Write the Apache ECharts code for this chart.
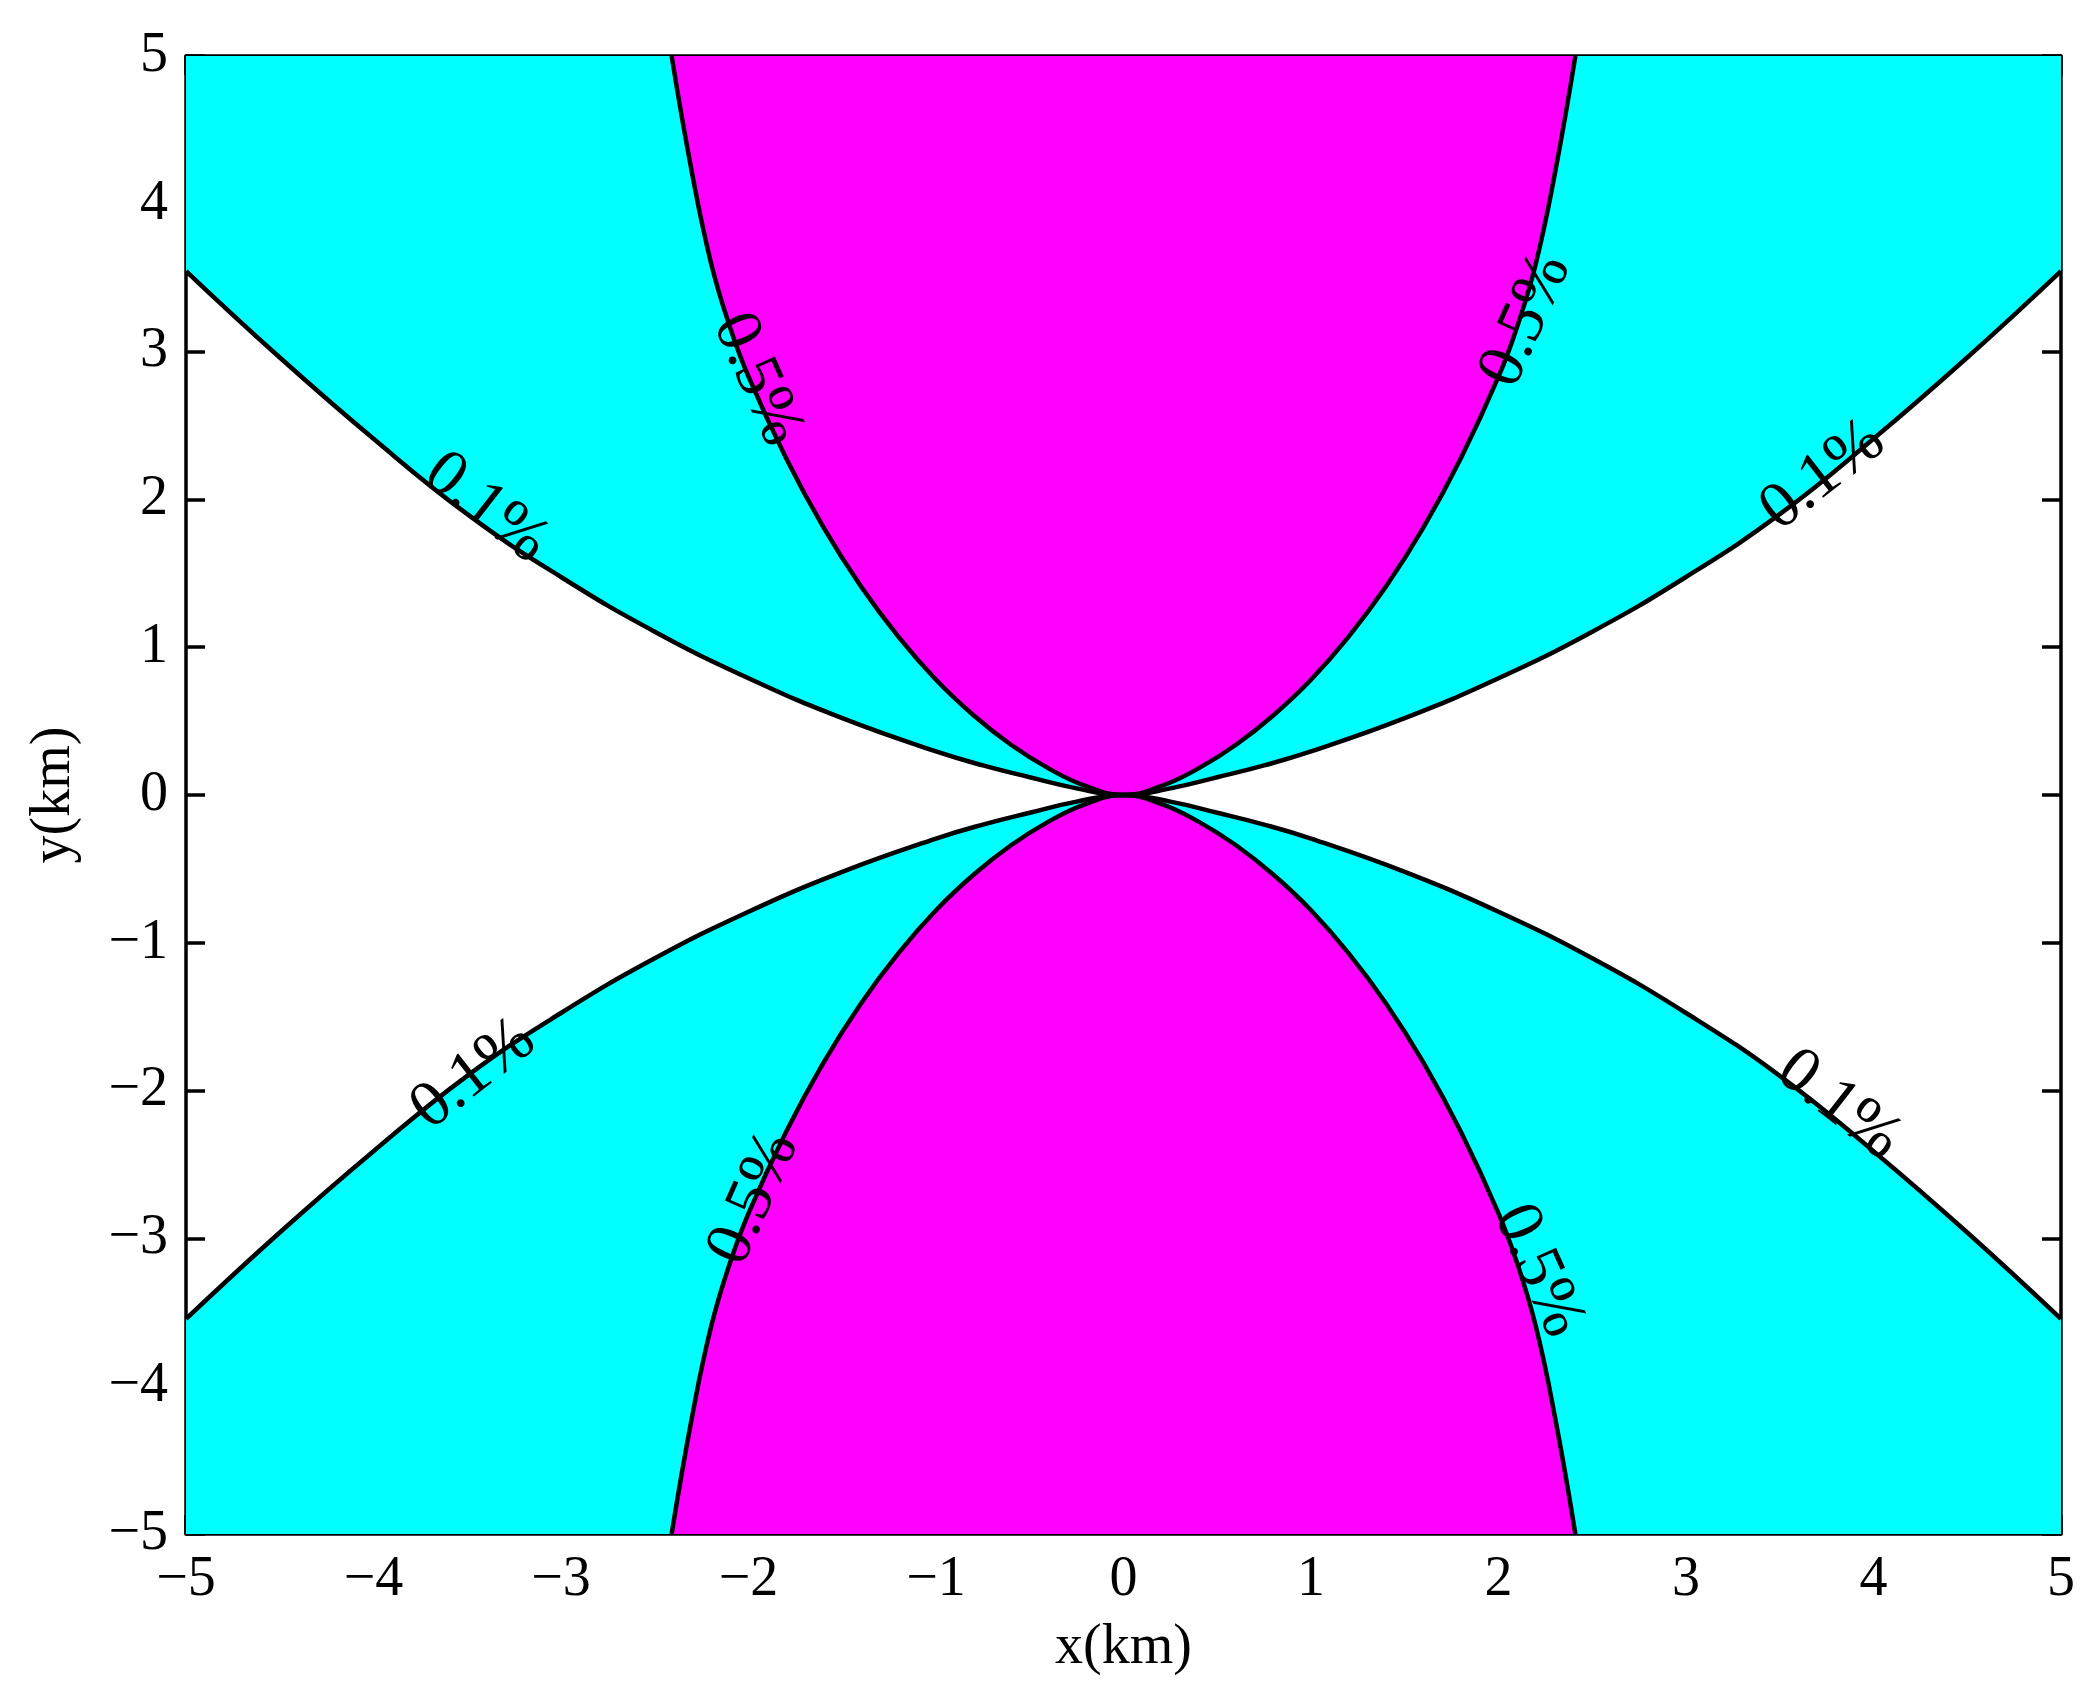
<!DOCTYPE html>
<html>
<head>
<meta charset="utf-8">
<script src="https://cdn.jsdelivr.net/npm/echarts@6/dist/echarts.min.js"></script>
<style>html,body{margin:0;padding:0;background:#fff}#c{width:2100px;height:1705px}</style>
</head>
<body>
<div id="c"></div>
<script>
// Right-half samples (x >= 0) of each contour; the plot is symmetric.
const c01X = [0, 0.25, 0.5, 0.75, 1, 1.5, 2, 2.5, 3, 3.5, 4, 4.5, 5];
const c01Y = [0, 0.045, 0.12, 0.2, 0.295, 0.52, 0.79, 1.105, 1.475, 1.9, 2.41, 2.96, 3.545];
const c05X = [0, 0.2, 0.4, 0.6, 0.8, 1.0, 1.2, 1.4, 1.6, 1.8, 2.0, 2.1, 2.2, 2.3, 2.41];
const c05Y = [0, 0.06, 0.18, 0.34, 0.54, 0.78, 1.07, 1.41, 1.81, 2.28, 2.83, 3.17, 3.6, 4.2, 5.0];

// Contour labels
const labelText = ['0.1%', '0.5%', '0.5%', '0.1%', '0.1%', '0.5%', '0.1%', '0.5%'];
const labelX = [-3.40, -1.955, 2.148, 3.73, -3.467, -1.97, 3.815, 2.212];
const labelY = [1.94, 2.81, 3.21, 2.16, -1.893, -2.73, -2.10, -3.22];
const labelAngle = [-38, -66, 66, 38, 38, 66, -38, -66];

function fullCurve(xs, ys, sign) {
  const pts = [];
  for (let i = xs.length - 1; i > 0; i--) pts.push([-xs[i], sign * ys[i]]);
  for (let i = 0; i < xs.length; i++) pts.push([xs[i], sign * ys[i]]);
  return pts;
}

const FONT = 'Liberation Serif';
const minus = v => String(v).replace('-', '\u2212');

function areaSeries(data, color, origin) {
  return {
    type: 'line', data: data, smooth: 0.45, showSymbol: false, symbol: 'none',
    lineStyle: { color: '#000', width: 4.5 },
    areaStyle: { color: color, opacity: 1, origin: origin },
    clip: true, silent: true, z: 2
  };
}

const labelData = labelText.map((t, i) => ({
  name: t, value: [labelX[i], labelY[i]],
  label: { rotate: labelAngle[i] }
}));

const axisCommon = {
  type: 'value', min: -5, max: 5, interval: 1,
  axisLine: { show: true, onZero: false, lineStyle: { color: '#000', width: 3.5 } },
  axisTick: { show: true, inside: true, length: 19, lineStyle: { color: '#000', width: 3.5 } },
  splitLine: { show: false }
};

const option = {
  animation: false,
  backgroundColor: '#fff',
  grid: { left: 186, right: 39, top: 56, bottom: 171, containLabel: false },
  xAxis: [
    Object.assign({}, axisCommon, {
      position: 'bottom',
      name: 'x(km)', nameLocation: 'middle', nameGap: 86,
      nameTextStyle: { fontFamily: FONT, fontSize: 56, color: '#000' },
      axisLabel: { margin: 18, fontFamily: FONT, fontSize: 56, color: '#000', formatter: minus }
    }),
    Object.assign({}, axisCommon, { position: 'top', axisLabel: { show: false } })
  ],
  yAxis: [
    Object.assign({}, axisCommon, {
      position: 'left',
      name: 'y(km)', nameLocation: 'middle', nameGap: 104, nameRotate: 90,
      nameTextStyle: { fontFamily: FONT, fontSize: 56, color: '#000' },
      axisLabel: { margin: 18, fontFamily: FONT, fontSize: 56, color: '#000', formatter: minus }
    }),
    Object.assign({}, axisCommon, { position: 'right', axisLabel: { show: false } })
  ],
  series: [
    areaSeries(fullCurve(c01X, c01Y, 1), '#00FFFF', 'end'),
    areaSeries(fullCurve(c05X, c05Y, 1), '#FF00FF', 'end'),
    areaSeries(fullCurve(c01X, c01Y, -1), '#00FFFF', 'start'),
    areaSeries(fullCurve(c05X, c05Y, -1), '#FF00FF', 'start'),
    {
      type: 'scatter', data: labelData, symbolSize: 0, itemStyle: { color: '#000', opacity: 1 },
      z: 5, silent: true,
      label: {
        show: true, position: 'inside', formatter: p => p.name,
        fontFamily: FONT, fontSize: 66, color: '#000', textBorderWidth: 0, opacity: 1
      }
    }
  ]
};

const chart = echarts.init(document.getElementById('c'), null, { renderer: 'canvas' });
chart.setOption(option);
</script>
</body>
</html>
